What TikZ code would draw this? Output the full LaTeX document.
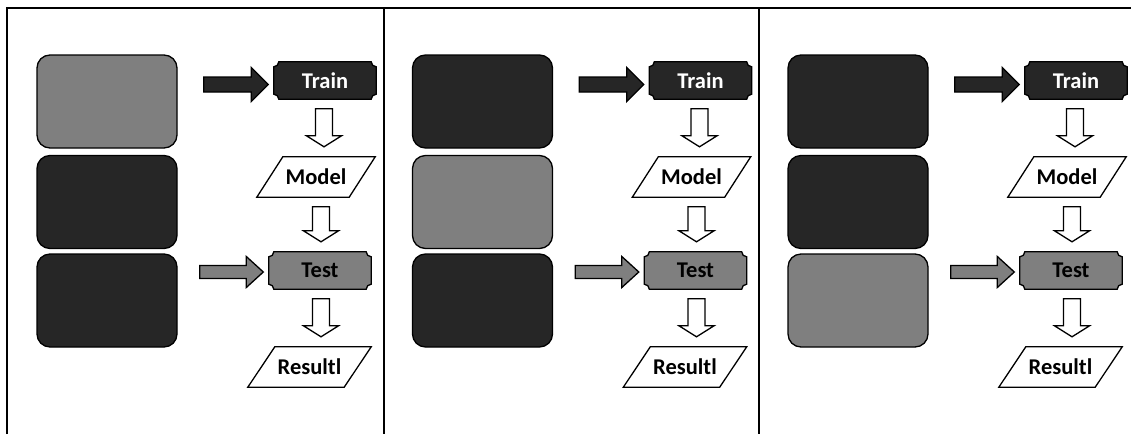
\documentclass[tikz,border=0pt]{standalone}
\usepackage{fontspec}
\setmainfont{Carlito}
\usetikzlibrary{calc}
\definecolor{dk}{HTML}{262626}
\definecolor{gr}{HTML}{7F7F7F}
\pgfdeclarelayer{bg}
\pgfdeclarelayer{shp}
\pgfsetlayers{bg,shp,main}
\tikzset{
  lbl/.style={font=\fontsize{22.5}{25}\selectfont\bfseries, inner sep=0pt},
  datablock/.style={rounded corners=13pt, draw=black, line width=1.3pt,
    minimum width=140pt, minimum height=93pt, inner sep=0pt},
  plaquebox/.style={lbl, minimum width=102pt, minimum height=37pt},
  parabox/.style={lbl, minimum height=40pt},
  outl/.style={draw=black, line width=1.3pt, line join=miter},
  frameline/.style={draw=black, line width=2pt},
}
% concave-corner plaque behind a node
\newcommand\plaquedraw[2]{%
  \path[outl,#2] let \p1=(#1.south west), \p2=(#1.north east) in
    (\x1+5pt,\y2) -- (\x2-5pt,\y2)
    .. controls (\x2-5pt,\y2-2.75pt) and (\x2-2.75pt,\y2-5pt) .. (\x2,\y2-5pt)
    -- (\x2,\y1+5pt)
    .. controls (\x2-2.75pt,\y1+5pt) and (\x2-5pt,\y1+2.75pt) .. (\x2-5pt,\y1)
    -- (\x1+5pt,\y1)
    .. controls (\x1+5pt,\y1+2.75pt) and (\x1+2.75pt,\y1+5pt) .. (\x1,\y1+5pt)
    -- (\x1,\y2-5pt)
    .. controls (\x1+2.75pt,\y2-5pt) and (\x1+5pt,\y2-2.75pt) .. (\x1+5pt,\y2)
    -- cycle;}
% parallelogram behind a node
\newcommand\paradraw[2]{%
  \path[outl,fill=white] let \p1=(#1.south west), \p2=(#1.north east) in
    (\x1-#2pt,\y1) -- (\x1+#2pt,\y2) -- (\x2+#2pt,\y2) -- (\x2-#2pt,\y1) -- cycle;}
% block arrow to the right: from, to, dy (down), fill, start gap, body half, head half
\newcommand\rarr[7]{%
  \path[outl,fill=#4] let \p1=(#1.east), \p2=(#2.west) in
    (\x1+#5pt,\y2-#3pt+#6pt) -- (\x2-22.5pt,\y2-#3pt+#6pt)
    -- (\x2-22.5pt,\y2-#3pt+#7pt) -- (\x2-5.5pt,\y2-#3pt)
    -- (\x2-22.5pt,\y2-#3pt-#7pt) -- (\x2-22.5pt,\y2-#3pt-#6pt)
    -- (\x1+#5pt,\y2-#3pt-#6pt) -- cycle;}
% block arrow downwards: upper, lower, node giving x, x shift
\newcommand\darr[4]{%
  \path[outl,fill=white] let \p1=(#1.south), \p2=(#2.north), \p3=(#3.center) in
    (\x3+#4pt-8.5pt,\y1-9.5pt) -- (\x3+#4pt+8.5pt,\y1-9.5pt)
    -- (\x3+#4pt+8.5pt,\y2+21pt) -- (\x3+#4pt+17.5pt,\y2+21pt)
    -- (\x3+#4pt,\y2+10pt) -- (\x3+#4pt-17.5pt,\y2+21pt)
    -- (\x3+#4pt-8.5pt,\y2+21pt) -- cycle;}
\begin{document}
\begin{tikzpicture}[x=1pt,y=-1pt]
\useasboundingbox (0,0) rectangle (1131,434);
\begin{pgfonlayer}{bg}
  \fill[white] (0,0) rectangle (1131,434);
\end{pgfonlayer}
% frame
\draw[frameline] (7,434) -- (7,8) -- (1131,8);
\draw[frameline] (384,8) -- (384,434);
\draw[frameline] (759,8) -- (759,434);
\foreach \k/\ox/\ca/\cb/\cc in {1/0/gr/dk/dk, 2/375.5/dk/gr/dk, 3/751/dk/dk/gr}{
  % data blocks
  \node[datablock, fill=\ca] (a\k) at (\ox+107,101.5) {};
  \node[datablock, fill=\cb] (b\k) at (\ox+107,202) {};
  \node[datablock, fill=\cc] (c\k) at (\ox+107,300.5) {};
  % flow
  \node[plaquebox, text=white] (tr\k) at (\ox+325,80.5) {Train};
  \node[parabox, minimum width=92pt] (mo\k) at (\ox+316,177) {Model};
  \node[plaquebox, text=black] (te\k) at (\ox+320,270.5) {Test};
  \node[parabox, minimum width=96pt] (re\k) at (\ox+309.5,367) {Resultl};
  \begin{pgfonlayer}{shp}
    \plaquedraw{tr\k}{fill=dk}
    \plaquedraw{te\k}{fill=gr}
    \paradraw{mo\k}{13}
    \paradraw{re\k}{13.5}
  \end{pgfonlayer}
  \rarr{a\k}{tr\k}{4}{dk}{26}{7.5}{17}
  \rarr{c\k}{te\k}{1.5}{gr}{22}{6.5}{15.5}
  \darr{tr\k}{mo\k}{tr\k}{-1}
  \darr{mo\k}{te\k}{te\k}{1}
  \darr{te\k}{re\k}{te\k}{1}
}
\end{tikzpicture}
\end{document}
